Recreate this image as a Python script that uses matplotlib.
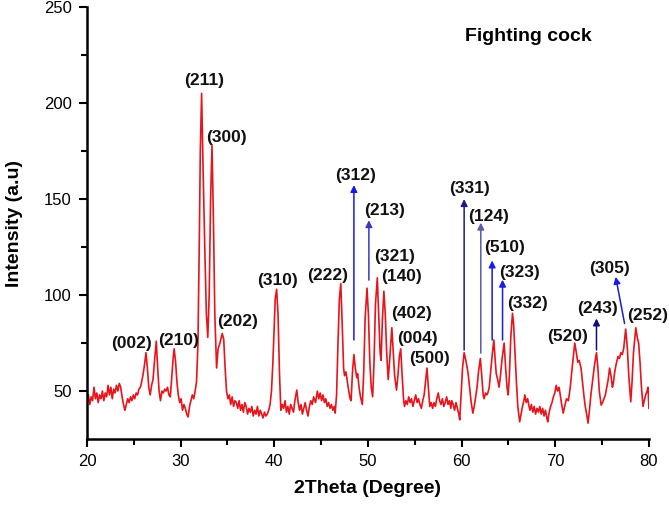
import matplotlib
matplotlib.use("Agg")
import matplotlib.pyplot as plt

plt.rcParams["font.family"] = ["Liberation Sans", "DejaVu Sans"]

# XRD pattern (2theta in degrees, intensity in a.u.)
two_theta = [
    20.0, 20.15, 20.3, 20.45, 20.6, 20.75, 20.9, 21.05, 21.2, 21.35, 21.5, 21.65, 21.8, 21.95,
    22.1, 22.25, 22.4, 22.55, 22.7, 22.85, 23.0, 23.15, 23.3, 23.45, 23.6, 23.75, 23.9, 24.05,
    24.2, 24.35, 24.5, 24.65, 24.8, 24.95, 25.1, 25.25, 25.4, 25.55, 25.7, 25.85, 26.0, 26.15,
    26.3, 26.45, 26.6, 26.75, 26.9, 27.05, 27.2, 27.4, 27.55, 27.7, 27.85, 28.0, 28.15, 28.3,
    28.45, 28.6, 28.75, 28.9, 29.05, 29.2, 29.3, 29.45, 29.6, 29.75, 29.9, 30.05, 30.2, 30.35,
    30.5, 30.65, 30.8, 30.95, 31.1, 31.25, 31.4, 31.55, 31.7, 31.85, 32.0, 32.1, 32.24, 32.4,
    32.6, 32.75, 32.9, 33.05, 33.2, 33.35, 33.5, 33.65, 33.84, 34.0, 34.2, 34.44, 34.6, 34.75,
    34.9, 35.05, 35.2, 35.35, 35.5, 35.65, 35.8, 35.95, 36.1, 36.25, 36.4, 36.55, 36.7, 36.85,
    37.0, 37.15, 37.3, 37.45, 37.6, 37.75, 37.9, 38.05, 38.2, 38.35, 38.5, 38.65, 38.8, 38.95,
    39.1, 39.25, 39.4, 39.55, 39.7, 39.85, 40.0, 40.1, 40.25, 40.4, 40.55, 40.7, 40.85, 41.0,
    41.15, 41.3, 41.45, 41.6, 41.75, 41.9, 42.05, 42.2, 42.4, 42.55, 42.7, 42.85, 43.0, 43.15,
    43.3, 43.45, 43.6, 43.75, 43.9, 44.05, 44.2, 44.4, 44.6, 44.75, 44.9, 45.05, 45.2, 45.35,
    45.5, 45.65, 45.8, 45.95, 46.1, 46.25, 46.4, 46.5, 46.65, 46.8, 46.95, 47.1, 47.25, 47.4,
    47.5, 47.65, 47.8, 47.95, 48.1, 48.2, 48.35, 48.5, 48.65, 48.8, 48.9, 49.05, 49.2, 49.4,
    49.55, 49.7, 49.9, 50.05, 50.2, 50.35, 50.5, 50.65, 50.8, 51.0, 51.15, 51.3, 51.4, 51.55,
    51.7, 51.85, 52.0, 52.16, 52.3, 52.55, 52.7, 52.85, 53.05, 53.2, 53.35, 53.5, 53.65, 53.8,
    53.9, 54.05, 54.2, 54.35, 54.5, 54.65, 54.8, 54.95, 55.1, 55.25, 55.4, 55.55, 55.7, 55.85,
    56.0, 56.15, 56.3, 56.45, 56.6, 56.75, 56.9, 57.05, 57.2, 57.35, 57.5, 57.65, 57.8, 57.95,
    58.1, 58.25, 58.4, 58.55, 58.7, 58.85, 58.95, 59.1, 59.25, 59.4, 59.55, 59.7, 59.8, 59.95,
    60.1, 60.27, 60.45, 60.6, 60.7, 60.85, 61.0, 61.2, 61.35, 61.5, 61.65, 61.8, 62.0, 62.15,
    62.3, 62.4, 62.55, 62.7, 62.8, 62.95, 63.1, 63.25, 63.44, 63.6, 63.7, 63.85, 64.0, 64.15,
    64.3, 64.54, 64.7, 64.85, 64.97, 65.1, 65.25, 65.43, 65.55, 65.7, 65.85, 66.0, 66.2, 66.35,
    66.5, 66.65, 66.75, 66.9, 67.05, 67.2, 67.3, 67.45, 67.6, 67.75, 67.9, 68.05, 68.2, 68.35,
    68.5, 68.65, 68.8, 68.95, 69.1, 69.2, 69.35, 69.5, 69.65, 69.8, 69.95, 70.1, 70.25, 70.4,
    70.5, 70.65, 70.85, 71.0, 71.2, 71.4, 71.6, 71.8, 72.08, 72.25, 72.4, 72.55, 72.75, 72.9,
    73.05, 73.2, 73.35, 73.5, 73.65, 73.8, 74.0, 74.2, 74.4, 74.55, 74.7, 74.9, 75.05, 75.2,
    75.35, 75.5, 75.65, 75.8, 75.95, 76.1, 76.2, 76.35, 76.5, 76.7, 76.85, 77.0, 77.15, 77.3,
    77.52, 77.7, 77.85, 78.06, 78.2, 78.35, 78.6, 78.75, 78.9, 79.05, 79.2, 79.37, 79.5, 79.65,
    79.8, 79.9, 80.0,
]
intensity = [
    44, 48, 43, 47, 45, 52, 46, 49, 44, 48, 46, 50, 45, 49,
    47, 53, 48, 52, 46, 51, 49, 53, 50, 54, 52, 47, 43, 40,
    43, 46, 44, 47, 45, 48, 46, 49, 48, 51, 52, 55, 59, 64,
    70, 62, 52, 48, 53, 56, 65, 76, 62, 50, 45, 50, 49, 51,
    50, 52, 48, 47, 57, 67, 72, 66, 55, 48, 44, 46, 40, 43,
    41, 38, 36.5, 42, 45, 48, 46, 50, 55, 75, 130, 175, 205, 165,
    120, 90, 78, 100, 150, 178, 140, 90, 62, 72, 75, 80, 77, 62,
    50, 46, 48, 43, 47, 42, 45, 44, 41, 45, 40, 43, 39, 44,
    42, 38, 41, 39, 42, 37, 40, 38, 42, 37, 40, 38, 36, 39,
    37, 38, 40, 43, 50, 65, 85, 98, 103, 90, 60, 40, 43, 41,
    45, 39, 42, 38, 43, 41, 39, 45, 50.5, 44, 40, 43, 38, 41,
    44, 40, 37, 42, 45, 43, 47, 44, 50, 46, 49, 45, 48, 44,
    46, 42, 44, 41, 43, 40, 42, 38.5, 48, 75, 98, 106, 85, 62,
    58, 60, 55, 50, 46, 45, 60, 69, 62, 57, 59, 52, 47, 43,
    60, 88, 103.6, 90, 65, 52, 47, 65, 95, 109, 90, 70, 66, 88,
    102, 90, 70, 56, 65, 83, 70, 58, 50.5, 58, 68, 72, 58, 46,
    42, 45, 43, 47, 44, 46, 42, 45, 48, 44, 46, 43, 41, 45,
    48, 55, 62, 52, 42, 44, 41, 44, 42, 46, 49, 45, 43, 46,
    42, 44, 47, 43, 45, 41, 45, 43, 40, 44, 41, 38, 35, 48,
    62, 70, 66, 62, 59, 52, 45, 38.5, 42, 47, 52, 60, 67, 58,
    48, 46, 49, 48, 49, 52, 60, 68, 76.6, 65, 59, 56, 52, 58,
    66, 75, 62, 52, 48, 58, 78, 90.5, 85, 70, 55, 42, 34, 38,
    42, 45, 48, 44, 46, 42, 40, 43, 39, 42, 38, 41, 39, 42,
    38, 41, 37, 40, 36, 34, 39, 42, 44, 47, 49, 53, 50, 52,
    49, 44, 38.5, 42, 46, 45, 52, 62, 75, 70, 65, 66, 62, 55,
    48, 42, 38, 33.3, 40, 48, 56, 64, 70, 62, 50, 42.7, 44, 46,
    48, 52, 56, 62, 58, 52, 54, 60, 64, 68, 67, 70, 69, 72,
    82.3, 72, 58, 44.4, 55, 70, 83, 78, 75, 65, 52, 42, 45, 48,
    50, 52, 41,
]

# (hkl) labels: text, label centre (x, y)
hkl_labels = ["(002)", "(210)", "(211)", "(300)", "(202)", "(310)", "(222)",
              "(312)", "(213)", "(321)", "(140)", "(402)", "(004)", "(500)",
              "(331)", "(124)", "(510)", "(323)", "(332)", "(520)", "(243)",
              "(305)", "(252)"]
label_x = [24.8, 29.8, 32.5, 34.9, 36.1, 40.3, 45.7,
           48.7, 51.8, 52.8, 53.6, 54.7, 55.3, 56.6,
           60.8, 62.9, 64.55, 66.2, 67.0, 71.3, 74.5,
           75.8, 79.9]
label_y = [75, 76.5, 212, 182.3, 86, 107.4, 110.4,
           162.5, 144.3, 120, 109.5, 90.5, 77.6, 67,
           155.7, 141, 125, 112, 95.7, 78.6, 93,
           114, 89.6]

# blue pointer arrows: start (x, y) -> tip (x, y)
arrow_start_x = [48.5, 50.1, 60.27, 62.05, 63.26, 64.37, 74.4, 77.4]
arrow_start_y = [76.6, 107.8, 71.4, 69.8, 76.6, 76.6, 71.4, 85.2]
arrow_tip_x = [48.5, 50.1, 60.27, 62.05, 63.26, 64.37, 74.4, 76.45]
arrow_tip_y = [157.3, 139.0, 150.0, 137.7, 118.0, 108.0, 87.8, 109.5]
arrow_colors = ["#1a1ae6", "#3a3ab8", "#1a1a8c", "#5a5aa8", "#1a1ae6", "#1a1ae6", "#10107a", "#1a1ae6"]

fig = plt.figure(figsize=(6.69, 5.07), dpi=100)
ax = fig.add_axes([0.130, 0.134, 0.840, 0.852])

ax.plot(two_theta, intensity, color="#e8141c", lw=1.2)

for x0, y0, x1, y1, c in zip(arrow_start_x, arrow_start_y, arrow_tip_x, arrow_tip_y, arrow_colors):
    ax.annotate("", xy=(x1, y1), xytext=(x0, y0),
                arrowprops=dict(arrowstyle="-|>", color=c, lw=1.1,
                                mutation_scale=10, shrinkA=0, shrinkB=0))

for t, x, y in zip(hkl_labels, label_x, label_y):
    ax.text(x, y, t, ha="center", va="center", fontsize=12.5, fontweight="bold", color="#111111")

ax.text(67.1, 234.6, "Fighting cock", ha="center", va="center", fontsize=14, fontweight="bold")

ax.set_xlim(20, 80)
ax.set_ylim(25, 250)
ax.set_xticks([20, 30, 40, 50, 60, 70, 80])
ax.set_xticks([25, 35, 45, 55, 65, 75], minor=True)
ax.set_yticks([50, 100, 150, 200, 250])
ax.set_yticks([75, 125, 175, 225], minor=True)
ax.tick_params(which="major", length=6, width=1.5, labelsize=12, pad=5)
ax.tick_params(which="minor", length=4, width=1.5)

for side in ("top", "right"):
    ax.spines[side].set_visible(False)
for side in ("left", "bottom"):
    ax.spines[side].set_linewidth(1.8)

ax.set_xlabel("2Theta (Degree)", fontsize=14, fontweight="bold", labelpad=8)
ax.set_ylabel("Intensity (a.u)", fontsize=14, fontweight="bold", labelpad=15)

fig.savefig("out.png", dpi=100)
